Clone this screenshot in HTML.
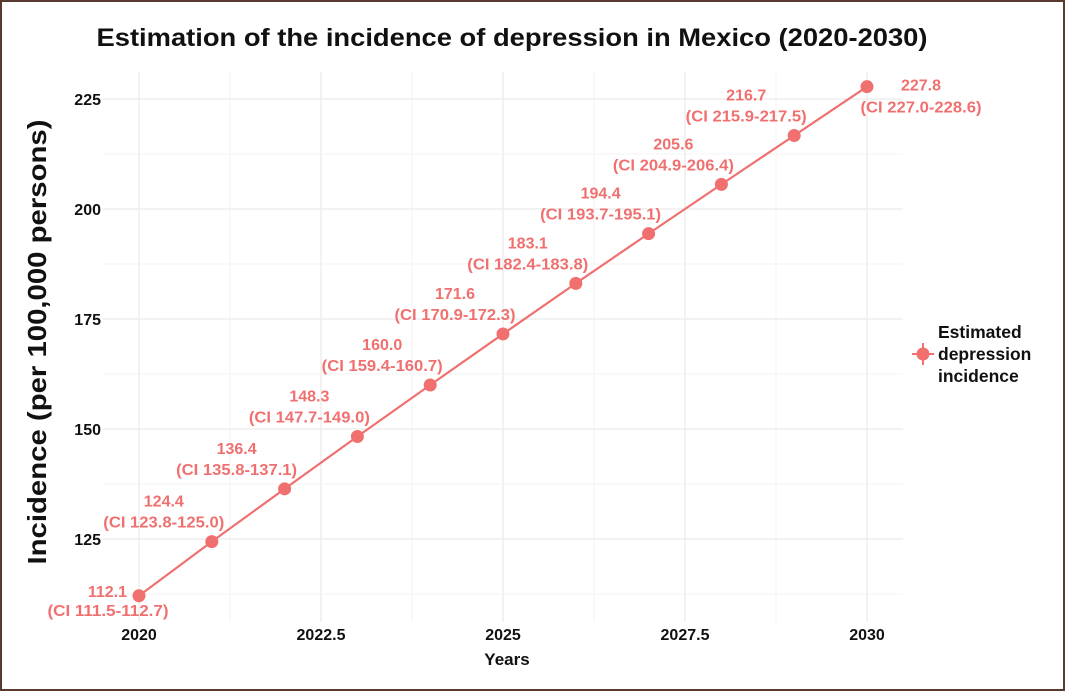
<!DOCTYPE html>
<html><head><meta charset="utf-8"><style>
body{margin:0;background:#fff}
svg{display:block;font-family:"Liberation Sans",Arial,sans-serif}
</style></head><body>
<svg id="c" width="1066" height="692">
<rect x="1" y="1" width="1063" height="689" fill="#fff" stroke="#5a3a30" stroke-width="2"/>
<g id="grid"></g><g id="marks"></g>
<text x="512" y="46" text-anchor="middle" font-size="25" font-weight="bold" fill="#111" textLength="831" lengthAdjust="spacingAndGlyphs">Estimation of the incidence of depression in Mexico (2020-2030)</text>
<text x="507" y="665" text-anchor="middle" font-size="17" font-weight="bold" fill="#111">Years</text>
<text transform="translate(46,342) rotate(-90)" text-anchor="middle" font-size="26" font-weight="bold" fill="#111" textLength="445" lengthAdjust="spacingAndGlyphs">Incidence (per 100,000 persons)</text>
<g>
<line x1="912" y1="354" x2="934" y2="354" stroke="#f07070" stroke-width="2"/>
<line x1="923" y1="343" x2="923" y2="365" stroke="#f07070" stroke-width="2"/>
<circle cx="923" cy="354" r="6.5" fill="#f07070"/>
<text x="938" y="338" font-size="17.5" font-weight="bold" fill="#111">Estimated</text>
<text x="938" y="360" font-size="17.5" font-weight="bold" fill="#111">depression</text>
<text x="938" y="382" font-size="17.5" font-weight="bold" fill="#111">incidence</text>
</g>
</svg>
<script>
const years=[2020,2021,2022,2023,2024,2025,2026,2027,2028,2029,2030];
const values=[112.1,124.4,136.4,148.3,160.0,171.6,183.1,194.4,205.6,216.7,227.8];
const ciLow=[111.5,123.8,135.8,147.7,159.4,170.9,182.4,193.7,204.9,215.9,227.0];
const ciHigh=[112.7,125.0,137.1,149.0,160.7,172.3,183.8,195.1,206.4,217.5,228.6];
const xTicks=[2020,2022.5,2025,2027.5,2030];
const xTickLabels=["2020","2022.5","2025","2027.5","2030"];
const yTicks=[125,150,175,200,225];
const ns="http://www.w3.org/2000/svg";
const X=v=>139+(v-2020)*72.8;
const Y=v=>539-(v-125)*4.4;
const L=103,R=903,T=72,B=622;
const grid=document.getElementById('grid'),marks=document.getElementById('marks'),svg=document.getElementById('c');
function mk(p,tag,a){const e=document.createElementNS(ns,tag);for(const k in a)e.setAttribute(k,a[k]);p.appendChild(e);return e;}
for(let i=0;i<xTicks.length;i++){
 const l=mk(grid,'line',{x1:X(xTicks[i]),x2:X(xTicks[i]),y1:T,y2:B,stroke:'#ebebeb','stroke-width':1.3});
 
 
 if(i<xTicks.length-1){const m=(xTicks[i]+xTicks[i+1])/2;
  const l2=mk(grid,'line',{x1:X(m),x2:X(m),y1:T,y2:B,stroke:'#f3f3f3','stroke-width':1});
  
  }
 const t=mk(svg,'text',{x:X(xTicks[i]),y:640,'text-anchor':'middle','font-size':16,'font-weight':'bold',fill:'#111'});
 t.textContent=xTickLabels[i];
 
 
}
for(let i=0;i<yTicks.length;i++){
 const v=yTicks[i];
 const l=mk(grid,'line',{x1:L,x2:R,y1:Y(v),y2:Y(v),stroke:'#ebebeb','stroke-width':1.3});
 
 
 const l2=mk(grid,'line',{x1:L,x2:R,y1:Y(v-12.5),y2:Y(v-12.5),stroke:'#f3f3f3','stroke-width':1});
 
 
 const t=mk(svg,'text',{x:101,y:Y(v)+6,'text-anchor':'end','font-size':16,'font-weight':'bold',fill:'#111'});
 t.textContent=String(v);
 
 
}
const line=mk(marks,'polyline',{points:years.map((y,i)=>X(y)+','+Y(values[i])).join(' '),fill:'none',stroke:'#f07070','stroke-width':2.2});


for(let i=0;i<years.length;i++){
 const cx=X(years[i]),cy=Y(values[i]);
 const c=mk(marks,'circle',{cx:cx,cy:cy,r:6.5,fill:'#f07070'});
 
 
 let lx=cx-48,ly1=cy-35,ly2=cy-14;
 if(i===0){lx=cx-31;ly1=cy+1;ly2=cy+20;}
 if(i===years.length-1){lx=cx+54;ly1=cy+4;ly2=cy+26;}
 const t1=mk(marks,'text',{x:i===0?cx-12:lx,y:ly1,'text-anchor':i===0?'end':'middle','font-size':16,'font-weight':'bold',fill:'#f07070'});
 t1.textContent=values[i].toFixed(1);
 
 
 const t2=mk(marks,'text',{x:lx,y:ly2,'text-anchor':'middle','font-size':16,'font-weight':'bold',fill:'#f07070','textLength':121,'lengthAdjust':'spacingAndGlyphs'});
 t2.textContent='(CI '+ciLow[i].toFixed(1)+'-'+ciHigh[i].toFixed(1)+')';
 
 
}
</script>
</body></html>
